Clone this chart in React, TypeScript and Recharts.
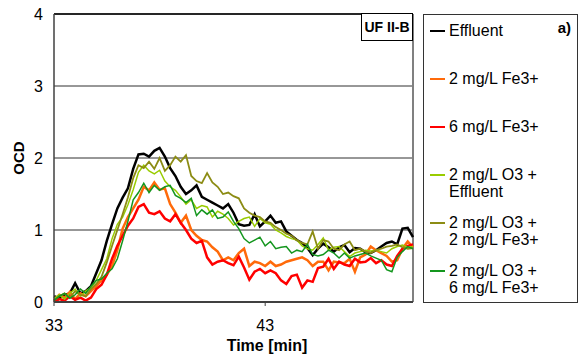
import { LineChart, Line, XAxis, YAxis, CartesianGrid, ReferenceLine, Legend } from 'recharts';

const TIMES = [
  33, 33.25, 33.5, 33.75, 34, 34.25, 34.5, 34.75, 35, 35.25, 35.5, 35.75,
  36, 36.25, 36.5, 36.75, 37, 37.25, 37.5, 37.75, 38, 38.25, 38.5, 38.75,
  39, 39.25, 39.5, 39.75, 40, 40.25, 40.5, 40.75, 41, 41.25, 41.5, 41.75,
  42, 42.25, 42.5, 42.75, 43, 43.25, 43.5, 43.75, 44, 44.25, 44.5, 44.75,
  45, 45.25, 45.5, 45.75, 46, 46.25, 46.5, 46.75, 47, 47.25, 47.5, 47.75,
  48, 48.25, 48.5, 48.75, 49, 49.25, 49.5, 49.75, 50,
];

const EFFLUENT = [
  0.08, 0.05, 0.10, 0.12, 0.26, 0.12, 0.15, 0.22, 0.40, 0.58, 0.85, 1.08,
  1.30, 1.45, 1.58, 1.85, 2.05, 2.06, 2.02, 2.10, 2.14, 2.02, 1.86, 1.75,
  1.60, 1.50, 1.55, 1.62, 1.46, 1.42, 1.38, 1.34, 1.30, 1.36, 1.24, 1.08,
  1.06, 1.07, 1.22, 1.05, 1.12, 1.20, 1.10, 1.12, 0.98, 0.92, 0.86, 0.82,
  0.75, 0.65, 0.74, 0.81, 0.76, 0.70, 0.76, 0.79, 0.69, 0.75, 0.74, 0.69,
  0.68, 0.72, 0.77, 0.82, 0.84, 0.80, 1.02, 1.03, 0.90,
];

const FE2 = [
  0.02, 0.10, 0.06, 0.14, 0.04, 0.12, 0.08, 0.15, 0.22, 0.30, 0.38, 0.50,
  0.72, 1.02, 1.18, 1.30, 1.42, 1.60, 1.55, 1.66, 1.56, 1.58, 1.36, 1.24,
  1.10, 1.20, 1.00, 0.92, 0.86, 0.84, 0.76, 0.70, 0.58, 0.62, 0.58, 0.68,
  0.74, 0.50, 0.56, 0.54, 0.50, 0.56, 0.50, 0.52, 0.56, 0.58, 0.60, 0.62,
  0.58, 0.50, 0.56, 0.56, 0.44, 0.56, 0.55, 0.54, 0.60, 0.42, 0.62, 0.66,
  0.77, 0.72, 0.68, 0.64, 0.56, 0.58, 0.74, 0.84, 0.76,
];

const FE6 = [
  0.00, 0.04, 0.02, 0.08, 0.03, 0.06, 0.02, 0.06, 0.18, 0.24, 0.38, 0.60,
  0.78, 0.92, 1.06, 1.16, 1.32, 1.36, 1.24, 1.22, 1.26, 1.16, 1.12, 1.22,
  1.10, 1.00, 0.88, 0.82, 0.85, 0.62, 0.52, 0.56, 0.58, 0.54, 0.51, 0.63,
  0.48, 0.31, 0.42, 0.46, 0.40, 0.44, 0.40, 0.30, 0.25, 0.36, 0.38, 0.20,
  0.30, 0.28, 0.47, 0.49, 0.60, 0.46, 0.56, 0.52, 0.50, 0.60, 0.55, 0.56,
  0.61, 0.54, 0.58, 0.52, 0.50, 0.64, 0.74, 0.78, 0.80,
];

const O3_EFF = [
  0.05, 0.10, 0.04, 0.12, 0.18, 0.08, 0.15, 0.20, 0.30, 0.45, 0.60, 0.88,
  1.08, 1.18, 1.35, 1.56, 1.80, 1.90, 1.82, 1.78, 1.83, 1.68, 1.60, 1.55,
  1.46, 1.36, 1.42, 1.30, 1.34, 1.32, 1.18, 1.26, 1.22, 1.16, 1.07, 1.12,
  1.16, 1.18, 1.05, 1.16, 1.10, 1.08, 1.00, 0.96, 0.91, 0.88, 0.86, 0.78,
  0.74, 0.72, 0.80, 0.89, 0.72, 0.76, 0.77, 0.70, 0.63, 0.68, 0.70, 0.72,
  0.71, 0.72, 0.70, 0.68, 0.74, 0.77, 0.79, 0.76, 0.77,
];

const O3_FE2 = [
  0.03, 0.08, 0.12, 0.06, 0.15, 0.10, 0.08, 0.18, 0.25, 0.35, 0.55, 0.78,
  1.00, 1.22, 1.45, 1.72, 1.90, 1.86, 1.95, 1.85, 2.00, 1.82, 1.90, 2.02,
  1.95, 2.04, 1.75, 1.68, 1.65, 1.79, 1.66, 1.60, 1.50, 1.52, 1.47, 1.44,
  1.30, 1.24, 1.20, 1.18, 1.12, 1.10, 1.04, 1.00, 0.95, 0.92, 0.86, 0.82,
  0.80, 0.98, 0.74, 0.86, 0.84, 0.74, 0.72, 0.80, 0.84, 0.72, 0.74, 0.70,
  0.68, 0.72, 0.74, 0.77, 0.78, 0.80, 0.76, 0.74, 0.75,
];

const O3_FE6 = [
  0.02, 0.08, 0.12, 0.05, 0.10, 0.18, 0.12, 0.22, 0.30, 0.32, 0.40, 0.46,
  0.60, 0.85, 1.12, 1.42, 1.52, 1.65, 1.52, 1.62, 1.55, 1.60, 1.62, 1.48,
  1.44, 1.38, 1.44, 1.20, 1.28, 1.22, 1.28, 1.16, 1.18, 1.25, 1.12, 1.02,
  0.88, 0.82, 0.86, 0.90, 0.78, 0.84, 0.74, 0.76, 0.77, 0.68, 0.72, 0.70,
  0.80, 0.66, 0.64, 0.66, 0.72, 0.68, 0.61, 0.68, 0.61, 0.64, 0.66, 0.68,
  0.64, 0.61, 0.58, 0.45, 0.42, 0.62, 0.70, 0.77, 0.74,
];

const Y_TICKS = [0, 1, 2, 3, 4];
const X_TICKS = [33, 43];

const SERIES = [
  { key: 'eff', name: 'Effluent', values: EFFLUENT, color: '#000000', width: 2.5 },
  { key: 'fe2', name: '2 mg/L Fe3+', values: FE2, color: '#ff6a0a', width: 2.5 },
  { key: 'fe6', name: '6 mg/L Fe3+', values: FE6, color: '#ff0000', width: 2.5 },
  { key: 'o3eff', name: '2 mg/L O3 +\nEffluent', values: O3_EFF, color: '#99cc00', width: 1.5 },
  { key: 'o3fe2', name: '2 mg/L O3 +\n2 mg/L Fe3+', values: O3_FE2, color: '#8c8c14', width: 1.8 },
  { key: 'o3fe6', name: '2 mg/L O3 +\n6 mg/L Fe3+', values: O3_FE6, color: '#14961e', width: 1.5 },
];

const data = TIMES.map((t, i) => {
  const row: Record<string, number> = { t };
  SERIES.forEach((s) => { row[s.key] = s.values[i]; });
  return row;
});

const FONT = '"Liberation Sans", Arial, sans-serif';

// legend keeps the series order (recharts sorts its payload by name)
function LegendBox() {
  return (
    <div style={{
      position: 'relative', width: 155, height: 289, boxSizing: 'border-box',
      border: '1.5px solid #333', background: '#fff', fontFamily: FONT,
    }}>
      <div style={{ position: 'absolute', right: 6, top: 4, fontWeight: 'bold', fontSize: 15 }}>a)</div>
      {SERIES.map((s, i) => (
        <div key={s.key} style={{ position: 'absolute', left: 6, top: 7 + i * 48, display: 'flex' }}>
          <div style={{ width: 15, height: 2, background: s.color, marginTop: 8, marginRight: 4 }} />
          <div style={{ whiteSpace: 'pre', fontSize: 16, lineHeight: '17px', color: '#000' }}>{s.name}</div>
        </div>
      ))}
    </div>
  );
}

export default function App() {
  return (
    <div style={{ position: 'absolute', left: 0, top: 0, width: 581, height: 363, background: '#fff', fontFamily: FONT }}>
      <LineChart width={581} height={363} data={data} margin={{ top: 14, right: 168, bottom: 31, left: 0 }}>
        <CartesianGrid vertical={false} stroke="#303030" strokeOpacity={1} strokeWidth={1} />
        <XAxis
          dataKey="t" type="number" domain={[33, 50]} ticks={X_TICKS} height={30}
          axisLine={{ stroke: '#404040', strokeWidth: 2 }} tickLine={{ stroke: '#404040' }}
          tickSize={4} tickMargin={14}
          tick={{ fontSize: 16, fill: '#000', fontFamily: FONT }}
          label={{
            content: () => (
              <text x={267} y={351} textAnchor="middle" fontWeight="bold" fontSize={16} fontFamily={FONT} fill="#000">
                Time [min]
              </text>
            ),
          }}
        />
        <YAxis
          domain={[0, 4]} ticks={Y_TICKS} width={54}
          axisLine={{ stroke: '#404040', strokeWidth: 1.5 }} tickLine={false}
          tickSize={6} tickMargin={5}
          tick={{ fontSize: 16, fill: '#000', fontFamily: FONT }}
          label={{
            content: () => (
              <text x={24} y={158} transform="rotate(-90 24 158)" textAnchor="middle" fontWeight="bold" fontSize={15} fontFamily={FONT} fill="#000">
                OCD
              </text>
            ),
          }}
        />
        <ReferenceLine y={4} stroke="#000" strokeWidth={1.5} />
        <ReferenceLine x={50} stroke="#808080" strokeWidth={2} />
        {SERIES.map((s) => (
          <Line
            key={s.key} type="linear" dataKey={s.key} name={s.name}
            stroke={s.color} strokeWidth={s.width} dot={false} activeDot={false}
            isAnimationActive={false}
          />
        ))}
        <Legend
          layout="vertical" align="center" verticalAlign="middle"
          wrapperStyle={{ left: 423, top: 14, width: 155, height: 289 }}
          content={<LegendBox />}
        />
      </LineChart>
      <div style={{
        position: 'absolute', left: 361, top: 13, width: 52, height: 28, boxSizing: 'border-box',
        border: '1.5px solid #000', background: '#fff', fontWeight: 'bold', fontSize: 14,
        display: 'flex', alignItems: 'center', justifyContent: 'center', fontFamily: FONT,
      }}>
        UF II-B
      </div>
    </div>
  );
}
